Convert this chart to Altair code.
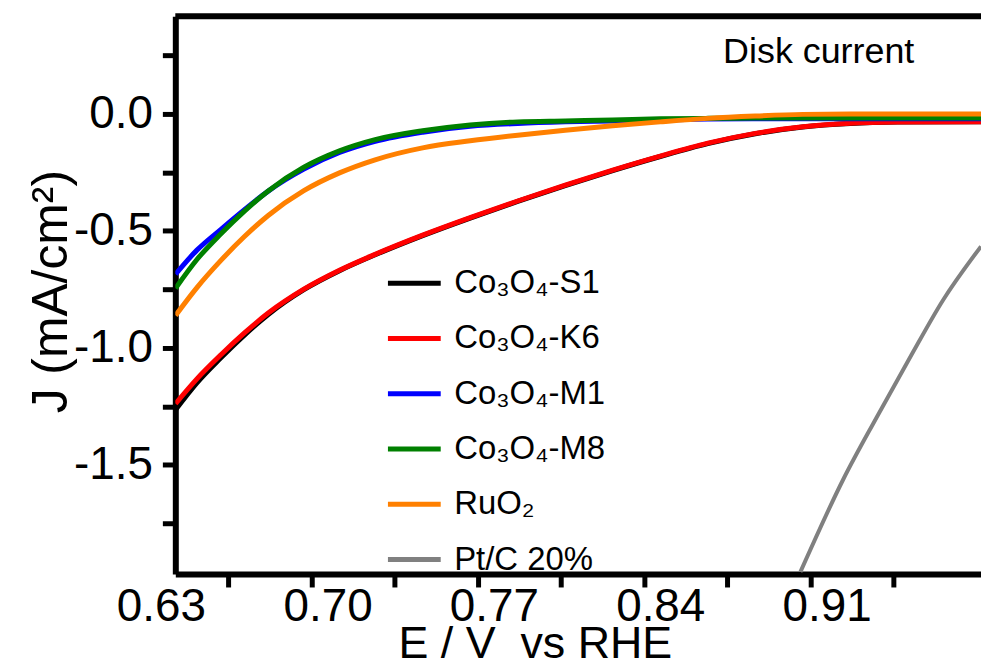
import altair as alt
import pandas as pd

# ---- data ----
series_names = ["Co₃O₄-S1", "Co₃O₄-K6", "Co₃O₄-M1", "Co₃O₄-M8", "RuO₂", "Pt/C 20%"]
series_colors = ["#000000", "#FF0000", "#0000FF", "#008000", "#FF8000", "#808080"]

e_grid = [0.636, 0.645, 0.655, 0.665, 0.675, 0.69, 0.705, 0.72, 0.74, 0.76,
          0.78, 0.80, 0.82, 0.84, 0.86, 0.88, 0.90, 0.92, 0.94, 0.975]
j_s1 = [-1.264, -1.149, -1.043, -0.945, -0.857, -0.751, -0.670, -0.602, -0.520, -0.445,
        -0.374, -0.306, -0.242, -0.182, -0.127, -0.085, -0.056, -0.041, -0.035, -0.033]
j_k6 = [-1.238, -1.132, -1.030, -0.936, -0.851, -0.749, -0.668, -0.600, -0.518, -0.443,
        -0.372, -0.304, -0.240, -0.180, -0.125, -0.083, -0.055, -0.040, -0.035, -0.033]
j_m1 = [-0.685, -0.582, -0.494, -0.409, -0.330, -0.236, -0.165, -0.117, -0.078, -0.053,
        -0.041, -0.034, -0.030, -0.026, -0.022, -0.021, -0.021, -0.021, -0.021, -0.021]
j_m8 = [-0.745, -0.622, -0.513, -0.415, -0.329, -0.228, -0.158, -0.110, -0.072, -0.047,
        -0.034, -0.030, -0.026, -0.021, -0.019, -0.017, -0.017, -0.017, -0.017, -0.017]
j_ruo2 = [-0.861, -0.742, -0.627, -0.524, -0.434, -0.328, -0.252, -0.196, -0.145, -0.115,
          -0.091, -0.070, -0.051, -0.034, -0.019, -0.009, -0.002, 0.0, 0.0, 0.0]
e_ptc = [0.899, 0.917, 0.931, 0.945, 0.959, 0.975]
j_ptc = [-1.957, -1.562, -1.298, -1.043, -0.796, -0.566]

x_tick_values = [0.63, 0.665, 0.70, 0.735, 0.77, 0.805, 0.84, 0.875, 0.91, 0.945, 0.98]
y_tick_values = [-1.75, -1.5, -1.25, -1.0, -0.75, -0.5, -0.25, 0.0, 0.25]
x_domain = [0.6359, 0.9750]
y_domain = [-1.966, 0.417]

annot_text = ["Disk current"]
annot_e = [0.9067]
annot_j = [0.217]

# first x tick label (sits just left of the frame, outside the scale domain)
first_label_text = ["0.63"]
first_label_e = [0.63]
first_label_j = [-2.166]

# ---- build tables ----
rows = []
for name, ys in zip(series_names[:5], [j_s1, j_k6, j_m1, j_m8, j_ruo2]):
    for e, j in zip(e_grid, ys):
        rows.append({"E": e, "J": j, "series": name})
for e, j in zip(e_ptc, j_ptc):
    rows.append({"E": e, "J": j, "series": series_names[5]})
df = pd.DataFrame(rows)
ann = pd.DataFrame({"E": annot_e, "J": annot_j, "label": annot_text})
first_lab = pd.DataFrame({"E": first_label_e, "J": first_label_j, "label": first_label_text})

FONT = "Liberation Sans"
W, H = 809, 560

x_axis = alt.Axis(
    values=x_tick_values,
    tickOffset=-16,
    labelOffset=16,
    labelExpr="(round(datum.value*1000) % 70 == 0 && datum.value < 0.95) ? format(datum.value, '.2f') : ''",
    tickColor={"condition": {"test": "datum.value < 0.64", "value": "transparent"}, "value": "black"},
    tickSize=13, tickWidth=5, domainWidth=6, domainColor="black",
    labelFont=FONT, labelFontSize=46, labelColor="black",
    labelBaseline="alphabetic", labelPadding=34, labelOverlap=False, labelFlush=False,
    labelAlign="center",
    grid=False,
    title="E / V\u00a0 vs RHE", titleFont=FONT, titleFontSize=45, titleFontWeight="normal",
    titleColor="black", titleX=361, titleY=84, titleAlign="center", titleBaseline="alphabetic",
)
y_axis = alt.Axis(
    values=y_tick_values,
    labelExpr="(round(datum.value*100) % 50 == 0) ? replace(format(datum.value, '.1f'), '\u2212', '-') : ''",
    tickSize=13, tickWidth=5, domainWidth=6, domainColor="black", tickColor="black",
    labelFont=FONT, labelFontSize=46, labelColor="black", labelPadding=10,
    labelOverlap=False, labelFlush=False,
    grid=False,
    title="J (mA/cm²)", titleFont=FONT, titleFontSize=50, titleFontWeight="normal",
    titleColor="black", titleX=-109, titleY=276, titleAngle=270,
    titleAlign="center", titleBaseline="alphabetic",
)

x_enc = alt.X("E:Q", scale=alt.Scale(domain=x_domain, nice=False, zero=False), axis=x_axis)
y_enc = alt.Y("J:Q", scale=alt.Scale(domain=y_domain, nice=False, zero=False), axis=y_axis)
color_enc = alt.Color(
    "series:N",
    scale=alt.Scale(domain=series_names, range=series_colors),
    legend=alt.Legend(
        orient="none", legendX=211, legendY=239, title=None,
        symbolType="stroke", symbolSize=2809, symbolStrokeWidth=5,
        labelFont=FONT, labelFontSize=33, labelColor="black", labelOffset=11,
        rowPadding=9.5, padding=0, labelLimit=0,
    ),
)

base = alt.Chart(df).encode(x=x_enc, y=y_enc, color=color_enc)
layers = []
for name in series_names:
    sw = 4 if name.startswith("Pt") else 5
    layers.append(
        base.transform_filter(alt.datum.series == name).mark_line(
            strokeWidth=sw, clip=True, interpolate="monotone"
        )
    )

annot = alt.Chart(ann).mark_text(
    font=FONT, fontSize=36, color="black", align="center", baseline="alphabetic"
).encode(x=x_enc, y=y_enc, text="label:N")

first_tick_label = alt.Chart(first_lab).mark_text(
    font=FONT, fontSize=46, color="black", align="center", baseline="alphabetic"
).encode(x=x_enc, y=y_enc, text="label:N")

top_line = alt.Chart(ann).mark_rule(color="black", strokeWidth=6).encode(
    x=alt.value(0), x2=alt.value(W), y=alt.value(0)
)

chart = alt.layer(*layers, annot, first_tick_label, top_line).properties(
    width=W, height=H,
    autosize=alt.AutoSizeParams(type="none"),
    padding={"left": 168, "top": 7, "right": 0, "bottom": 94},
).configure_view(strokeWidth=0).configure(font=FONT, background="white")

chart.save("out.html", embed_options={"renderer": "svg", "actions": False})
